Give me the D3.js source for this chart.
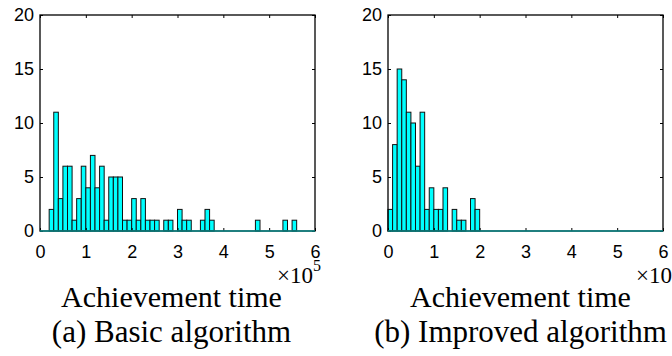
<!DOCTYPE html>
<html>
<head>
<meta charset="utf-8">
<script src="https://cdn.jsdelivr.net/npm/d3@7"></script>
<style>
  body { margin: 0; background: white; }
  .tick text { font-family: "Liberation Sans", Arial, sans-serif; font-size: 18px; fill: #000; }
  .serif { font-family: "Liberation Serif", "Times New Roman", serif; fill: #000; }
</style>
</head>
<body>
<div id="chart"></div>
<script>
// histogram bin edges: 60 bins of width 1e4 from 0 to 6e5
var binWidth = 1e4;
var xTicks = [0, 1e5, 2e5, 3e5, 4e5, 5e5, 6e5];
var yTicks = [0, 5, 10, 15, 20];

// counts per bin
var basicCounts = [
  0, 0, 2, 11, 3, 6, 6, 1, 3, 6,
  4, 7, 4, 6, 1, 5, 5, 5, 1, 1,
  3, 1, 3, 1, 1, 1, 0, 1, 1, 0,
  2, 1, 1, 0, 0, 1, 2, 1, 0, 0,
  0, 0, 0, 0, 0, 0, 0, 1, 0, 0,
  0, 0, 0, 1, 0, 1, 0, 0, 0, 0
];
var improvedCounts = [
  2, 8, 15, 14, 11, 10, 6, 11, 2, 4,
  2, 2, 4, 0, 2, 1, 1, 0, 3, 2,
  0, 0, 0, 0, 0, 0, 0, 0, 0, 0,
  0, 0, 0, 0, 0, 0, 0, 0, 0, 0,
  0, 0, 0, 0, 0, 0, 0, 0, 0, 0,
  0, 0, 0, 0, 0, 0, 0, 0, 0, 0
];

var xLabel = "Achievement time";
var captions = ["(a) Basic algorithm", "(b) Improved algorithm"];

var svgWidth = 672;
var svgHeight = 356;

var svg = d3.select("#chart")
  .append("svg")
  .attr("width", svgWidth)
  .attr("height", svgHeight);

var panels = [
  { counts: basicCounts, left: 40, caption: captions[0], expShift: 0, labelShift: -6 },
  { counts: improvedCounts, left: 388, caption: captions[1], expShift: 11, labelShift: -5 }
];

var plotW = 275;
var marginTop = 15;
var plotH = 216;

panels.forEach(function(p) {
  var g = svg.append("g")
    .attr("transform", `translate(${p.left}, ${marginTop})`);

  var x = d3.scaleLinear().domain([0, 6e5]).range([0, plotW]);
  var y = d3.scaleLinear().domain([0, 20]).range([plotH, 0]);

  // bars
  g.selectAll("rect.bar")
    .data(p.counts.map(function(c, i) { return { x0: i * binWidth, c: c }; }).filter(d => d.c > 0))
    .enter()
    .append("rect")
    .attr("class", "bar")
    .attr("x", d => x(d.x0))
    .attr("y", d => y(d.c))
    .attr("width", d => x(d.x0 + binWidth) - x(d.x0))
    .attr("height", d => y(0) - y(d.c))
    .attr("fill", "#00ffff")
    .attr("stroke", "#111")
    .attr("stroke-width", 1);

  // axes with inward ticks
  var bottom = g.append("g")
    .attr("transform", `translate(0, ${plotH})`)
    .call(d3.axisBottom(x).tickValues(xTicks).tickFormat(d => d / 1e5).tickSize(-3).tickPadding(14));
  var leftAx = g.append("g")
    .call(d3.axisLeft(y).tickValues(yTicks).tickSize(-3).tickPadding(6));
  var topAx = g.append("g")
    .call(d3.axisTop(x).tickValues(xTicks).tickSize(-3).tickFormat(""));
  var rightAx = g.append("g")
    .attr("transform", `translate(${plotW}, 0)`)
    .call(d3.axisRight(y).tickValues(yTicks).tickSize(-3).tickFormat(""));

  [bottom, leftAx, topAx, rightAx].forEach(function(a) {
    a.select(".domain").remove();
    a.selectAll(".tick line").attr("stroke", "#000");
  });

  // box
  g.append("rect")
    .attr("x", 0).attr("y", 0)
    .attr("width", plotW).attr("height", plotH)
    .attr("fill", "none")
    .attr("stroke", "#000")
    .attr("stroke-width", 1.3);

  // zero-height bars show up as a teal baseline
  g.append("line")
    .attr("x1", x(0)).attr("x2", x(6e5))
    .attr("y1", y(0)).attr("y2", y(0))
    .attr("stroke", "#0e8c8c")
    .attr("stroke-width", 1.5);

  // x10^5 exponent
  var exp = g.append("text")
    .attr("class", "serif")
    .attr("x", plotW - 38 + p.expShift)
    .attr("y", 268)
    .style("font-size", "23px");
  exp.append("tspan").text("\u00d710");
  exp.append("tspan").attr("dy", -12).style("font-size", "16px").text("5");

  g.append("text")
    .attr("class", "serif")
    .attr("x", plotW / 2 + p.labelShift)
    .attr("y", 292)
    .attr("text-anchor", "middle")
    .style("font-size", "30px")
    .text(xLabel);

  g.append("text")
    .attr("class", "serif")
    .attr("x", plotW / 2 + p.labelShift)
    .attr("y", 327)
    .attr("text-anchor", "middle")
    .style("font-size", "31px")
    .text(p.caption);
});
</script>
</body>
</html>
